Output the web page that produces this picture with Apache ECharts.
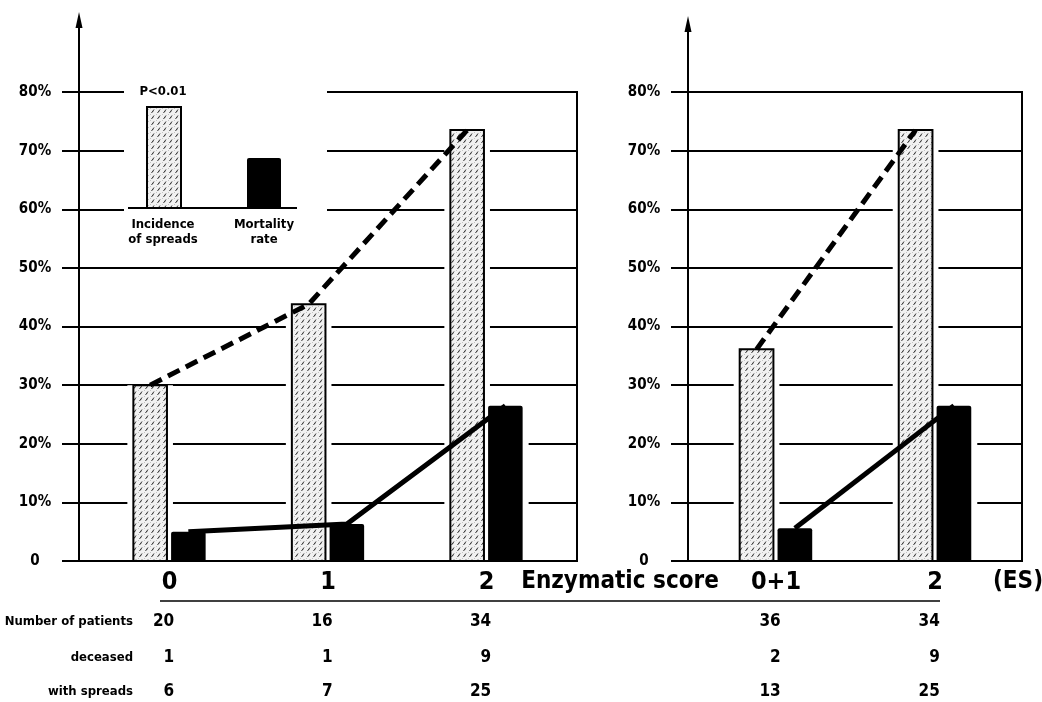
<!DOCTYPE html>
<html><head><meta charset="utf-8">
<script src="https://cdn.jsdelivr.net/npm/echarts@6/dist/echarts.min.js"></script>
<style>html,body{margin:0;padding:0;background:#fff}#c{width:1042px;height:702px}</style>
</head><body><div id="c"></div>
<script>
// ---- data ----
const leftCategories = ['0', '1', '2'];
const rightCategories = ['0+1', '2'];
const leftSpreadPct = [30, 43.8, 73.5];
const leftMortalityPct = [5, 6.3, 26.5];
const rightSpreadPct = [36.1, 73.5];
const rightMortalityPct = [5.6, 26.5];
const leftPatients = [20, 16, 34];
const leftDeceased = [1, 1, 9];
const leftWithSpreads = [6, 7, 25];
const rightPatients = [36, 34];
const rightDeceased = [2, 9];
const rightWithSpreads = [13, 25];
const yTickLabels = ['0', '10%', '20%', '30%', '40%', '50%', '60%', '70%', '80%'];
const rowLabels = ['Number of patients', 'deceased', 'with spreads'];
const axisTitle = 'Enzymatic score';
const axisUnit = '(ES)';
const legendSpread = 'Incidence\nof spreads';
const legendMort = 'Mortality\nrate';
const pValue = 'P<0.01';

// ---- style ----
const FONT = "'Liberation Sans Narrow','DejaVu Sans Condensed','Roboto Condensed',Roboto,sans-serif";
const HATCH_C = -0.122, MORT_C = 0.119;
const ROW_OFFSETS = [61, 97, 131];
const NUM_SHIFT = 0.03;

function makeHatch() {
  const c = document.createElement('canvas'); c.width = 6; c.height = 6;
  const g = c.getContext('2d');
  g.fillStyle = '#f1f1f1'; g.fillRect(0, 0, 6, 6);
  g.fillStyle = '#c4c4c4'; g.fillRect(0, 0, 1, 1); g.fillRect(3, 3, 1, 1);
  g.strokeStyle = '#333'; g.lineWidth = 1;
  g.beginPath(); g.moveTo(1.5, 5); g.lineTo(4, 1.5); g.stroke();
  return c;
}
const hatch = makeHatch();

function renderBars(params, api) {
  const i = api.value(0), s = api.value(1), m = api.value(2);
  const b = api.coord([i, 0]), ts = api.coord([i, s]), tm = api.coord([i, m]);
  const u = api.size([1, 0])[0];
  const hx0 = b[0] - 0.228 * u, hx1 = b[0] - 0.016 * u;
  const mx0 = b[0] + 0.010 * u, mx1 = b[0] + 0.228 * u;
  const gap = 6;
  return { type: 'group', children: [
    { type: 'rect', shape: { x: hx0 - gap, y: ts[1], width: hx1 - hx0 + 2 * gap, height: b[1] - ts[1] }, style: { fill: '#fff' } },
    { type: 'rect', shape: { x: mx0 - gap, y: tm[1], width: mx1 - mx0 + 2 * gap, height: b[1] - tm[1] }, style: { fill: '#fff' } },
    { type: 'rect', shape: { x: hx0, y: ts[1], width: hx1 - hx0, height: b[1] - ts[1] }, style: { fill: { image: hatch, repeat: 'repeat' }, stroke: '#000', lineWidth: 2 } },
    { type: 'rect', shape: { x: mx0, y: tm[1], width: mx1 - mx0, height: b[1] - tm[1], r: [2, 2, 0, 0] }, style: { fill: '#000' } }
  ]};
}

function makeXAxes(gridIndex, cats, min, max, rows) {
  const vals = cats.map((_, i) => i);
  const base = { type: 'value', gridIndex, min, max, position: 'bottom',
    splitLine: { show: false }, axisTick: { show: false }, axisLine: { show: false, onZero: false } };
  const list = [Object.assign({}, base, {
    z: 5,
    axisLine: { show: true, onZero: false, lineStyle: { color: '#000', width: 2 } },
    axisLabel: { customValues: vals, formatter: v => cats[Math.round(v)], margin: 21, verticalAlign: 'middle',
      color: '#000', fontSize: 25, fontWeight: 'bold', fontFamily: FONT }
  })];
  rows.forEach((arr, r) => {
    list.push(Object.assign({}, base, {
      offset: ROW_OFFSETS[r],
      axisLabel: { customValues: vals.map(v => v + NUM_SHIFT), formatter: v => String(arr[Math.round(v)]), margin: 0,
        verticalAlign: 'middle', align: 'right', color: '#000', fontSize: 17, fontWeight: 'bold', fontFamily: FONT }
    }));
  });
  return list;
}

function makeYAxis(gridIndex) {
  return { type: 'value', gridIndex, min: 0, max: 80, interval: 10,
    axisLine: { show: true, onZero: false, lineStyle: { color: '#000', width: 2 } },
    axisTick: { show: true, length: 17, lineStyle: { color: '#000', width: 2 } },
    axisLabel: { formatter: v => yTickLabels[Math.round(v / 10)], align: 'center', margin: 44,
      color: '#000', fontSize: 15, fontWeight: 'bold', fontFamily: FONT },
    splitLine: { show: true, lineStyle: { color: '#000', width: 2 } } };
}

const gridStyle = { show: true, borderColor: '#000', borderWidth: 2, backgroundColor: 'transparent' };
const txt = (x, y, text, size, align) => ({ type: 'text', x, y, z: 103,
  style: { text, fill: '#000', font: 'bold ' + size + 'px ' + FONT, align: align || 'center', verticalAlign: 'middle',
    lineHeight: 15 } });

const option = {
  backgroundColor: '#fff',
  animation: false,
  grid: [
    Object.assign({ left: 79, top: 92, width: 498, height: 469 }, gridStyle),
    Object.assign({ left: 688, top: 92, width: 334, height: 469 }, gridStyle)
  ],
  xAxis: [].concat(
    makeXAxes(0, leftCategories, -0.571, 2.571, [leftPatients, leftDeceased, leftWithSpreads]),
    makeXAxes(1, rightCategories, -0.553, 1.547, [rightPatients, rightDeceased, rightWithSpreads])
  ),
  yAxis: [makeYAxis(0), makeYAxis(1)],
  series: [
    { type: 'custom', xAxisIndex: 0, yAxisIndex: 0, z: 2, clip: false, renderItem: renderBars,
      encode: { x: 0, y: [1, 2] },
      data: leftCategories.map((_, i) => [i, leftSpreadPct[i], leftMortalityPct[i]]) },
    { type: 'custom', xAxisIndex: 4, yAxisIndex: 1, z: 2, clip: false, renderItem: renderBars,
      encode: { x: 0, y: [1, 2] },
      data: rightCategories.map((_, i) => [i, rightSpreadPct[i], rightMortalityPct[i]]) },
    { type: 'line', xAxisIndex: 0, yAxisIndex: 0, z: 4, symbol: 'none', silent: true,
      lineStyle: { color: '#000', width: 5, type: [13, 7], cap: 'butt' },
      data: leftCategories.map((_, i) => [i + HATCH_C, leftSpreadPct[i]]) },
    { type: 'line', xAxisIndex: 0, yAxisIndex: 0, z: 4, symbol: 'none', silent: true,
      lineStyle: { color: '#000', width: 5 },
      data: leftCategories.map((_, i) => [i + MORT_C, leftMortalityPct[i]]) },
    { type: 'line', xAxisIndex: 4, yAxisIndex: 1, z: 4, symbol: 'none', silent: true,
      lineStyle: { color: '#000', width: 5, type: [13, 7], cap: 'butt' },
      data: rightCategories.map((_, i) => [i + HATCH_C, rightSpreadPct[i]]) },
    { type: 'line', xAxisIndex: 4, yAxisIndex: 1, z: 4, symbol: 'none', silent: true,
      lineStyle: { color: '#000', width: 5 },
      data: rightCategories.map((_, i) => [i + MORT_C, rightMortalityPct[i]]) }
  ],
  graphic: [
    // axis arrows
    { type: 'line', z: 100, shape: { x1: 79, y1: 93, x2: 79, y2: 26 }, style: { stroke: '#000', lineWidth: 2 } },
    { type: 'polygon', z: 100, shape: { points: [[79, 12], [75.5, 28], [82.5, 28]] }, style: { fill: '#000' } },
    { type: 'line', z: 100, shape: { x1: 688, y1: 93, x2: 688, y2: 30 }, style: { stroke: '#000', lineWidth: 2 } },
    { type: 'polygon', z: 100, shape: { points: [[688, 16], [684.5, 32], [691.5, 32]] }, style: { fill: '#000' } },
    // legend
    { type: 'rect', z: 100, shape: { x: 124, y: 82, width: 203, height: 176 }, style: { fill: '#fff' } },
    { type: 'line', z: 101, shape: { x1: 128, y1: 208, x2: 297, y2: 208 }, style: { stroke: '#000', lineWidth: 2 } },
    { type: 'rect', z: 102, shape: { x: 147, y: 107, width: 34, height: 101 }, style: { fill: { image: hatch, repeat: 'repeat' }, stroke: '#000', lineWidth: 2 } },
    { type: 'rect', z: 102, shape: { x: 247, y: 158, width: 34, height: 50, r: [2, 2, 0, 0] }, style: { fill: '#000' } },
    txt(163, 92, pValue, 13),
    txt(163, 232, legendSpread, 13),
    txt(264, 232, legendMort, 13),
    // x title and unit
    txt(620, 582, axisTitle, 24),
    txt(1018, 582, axisUnit, 24),
    // separator
    { type: 'line', z: 100, shape: { x1: 160, y1: 601, x2: 940, y2: 601 }, style: { stroke: '#000', lineWidth: 1.5 } },
    // row labels
    txt(133, 622, rowLabels[0], 13, 'right'),
    txt(133, 658, rowLabels[1], 13, 'right'),
    txt(133, 692, rowLabels[2], 13, 'right')
  ]
};

const chart = echarts.init(document.getElementById('c'), null, { renderer: 'canvas' });
chart.setOption(option);
</script>
</body></html>
